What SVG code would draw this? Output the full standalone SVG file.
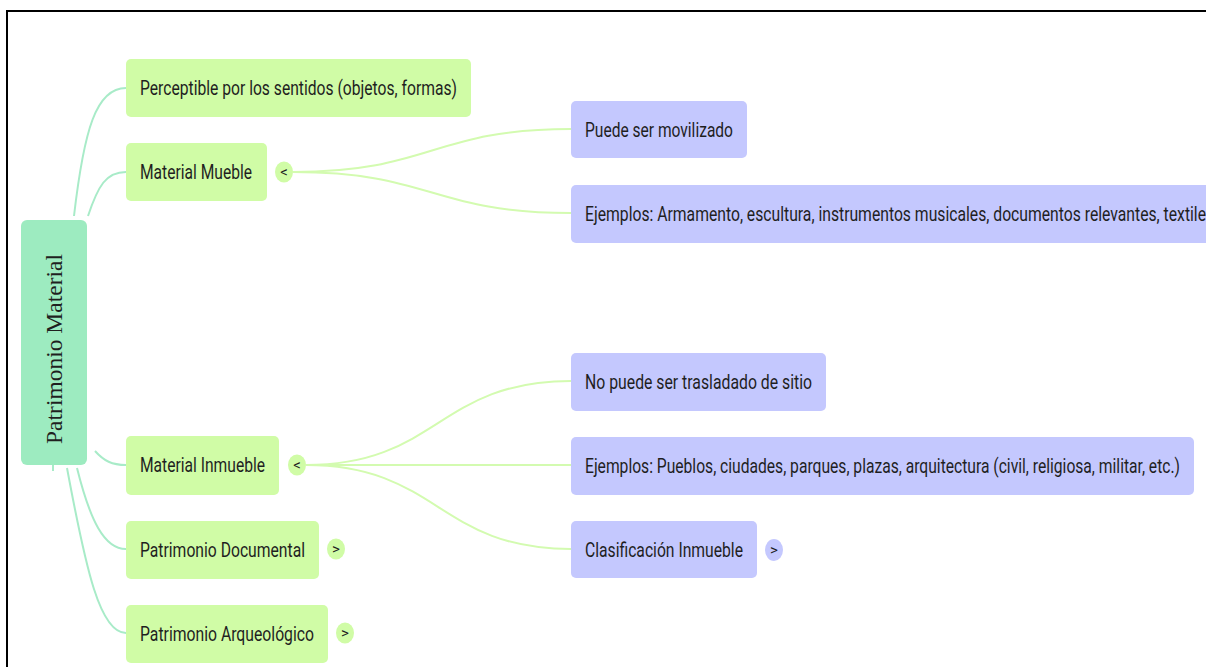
<svg xmlns="http://www.w3.org/2000/svg" width="1206" height="667" viewBox="0 0 1206 667">
  <style>
    .root { fill: #9DEBC0; }
    .g { fill: #D0FCA6; }
    .b { fill: #C4C8FE; }
    .t { font-family: Roboto, "Noto Sans", sans-serif; font-size: 19.5px; fill: #1F1F1F; }
    .rt { font-family: "Liberation Serif", "Times New Roman", serif; font-size: 23.5px; fill: #1F1F1F; }
    .c { font-family: Roboto, "Noto Sans", sans-serif; font-size: 15px; fill: #1F1F1F; }
    .l1 { fill: none; stroke: #A8EBC8; stroke-width: 2; }
    .l2 { fill: none; stroke: #D3FBB0; stroke-width: 2; }
  </style>
  <rect width="1206" height="667" fill="#FFFFFF"/>
  <g id="frame">
    <line x1="7" y1="10" x2="7" y2="667" stroke="#000" stroke-width="2"/>
    <line x1="6" y1="11" x2="1206" y2="11" stroke="#000" stroke-width="2"/>
  </g>
  <g id="connectors">
    <path class="l1" d="M74,216 C84,130 96,88 126,88"/>
    <path class="l1" d="M88,216 C98,186 106,172 126,172"/>
    <path class="l1" d="M95,451 C104,461 112,465 126,465"/>
    <path class="l1" d="M77,468 C90,520 104,549 126,549"/>
    <path class="l1" d="M67,468 C86,570 100,633 126,633"/>
    <path class="l1" d="M53,465 L53,471"/>
    <path class="l2" d="M293,172 C432,172 432,129 571,129"/>
    <path class="l2" d="M293,172 C432,172 432,213 571,213"/>
    <path class="l2" d="M306,465 C438,465 438,381 571,381"/>
    <path class="l2" d="M306,465 L571,465"/>
    <path class="l2" d="M306,465 C438,465 438,549 571,549"/>
  </g>
  <g id="root">
    <rect class="root" x="21" y="220" width="66" height="245" rx="6"/>
    <text class="rt" transform="translate(62,349) rotate(-90)" text-anchor="middle">Patrimonio Material</text>
  </g>
  <g id="perceptible">
    <rect class="g" x="126" y="59" width="345" height="58" rx="5"/>
    <text class="t" x="140" y="95" textLength="317" lengthAdjust="spacingAndGlyphs">Perceptible por los sentidos (objetos, formas)</text>
  </g>
  <g id="mueble">
    <rect class="g" x="126" y="143" width="141" height="58" rx="5"/>
    <text class="t" x="140" y="179" textLength="112" lengthAdjust="spacingAndGlyphs">Material Mueble</text>
    <ellipse class="g" cx="284" cy="172" rx="9" ry="10.5"/>
    <text class="c" x="284" y="177" text-anchor="middle">&lt;</text>
  </g>
  <g id="inmueble">
    <rect class="g" x="126" y="436" width="153" height="59" rx="5"/>
    <text class="t" x="140" y="472" textLength="125" lengthAdjust="spacingAndGlyphs">Material Inmueble</text>
    <ellipse class="g" cx="297" cy="465" rx="9" ry="10.5"/>
    <text class="c" x="297" y="470" text-anchor="middle">&lt;</text>
  </g>
  <g id="documental">
    <rect class="g" x="126" y="521" width="193" height="58" rx="5"/>
    <text class="t" x="140" y="556.5" textLength="165" lengthAdjust="spacingAndGlyphs">Patrimonio Documental</text>
    <ellipse class="g" cx="336" cy="549" rx="9" ry="10.5"/>
    <text class="c" x="336" y="554" text-anchor="middle">&gt;</text>
  </g>
  <g id="arqueologico">
    <rect class="g" x="126" y="605" width="202" height="58" rx="5"/>
    <text class="t" x="140" y="640.5" textLength="174" lengthAdjust="spacingAndGlyphs">Patrimonio Arqueológico</text>
    <ellipse class="g" cx="345" cy="633" rx="9" ry="10.5"/>
    <text class="c" x="345" y="638" text-anchor="middle">&gt;</text>
  </g>
  <g id="movilizado">
    <rect class="b" x="571" y="101" width="176" height="57" rx="5"/>
    <text class="t" x="585" y="136.5" textLength="148" lengthAdjust="spacingAndGlyphs">Puede ser movilizado</text>
  </g>
  <g id="ejemplos-mueble">
    <rect class="b" x="571" y="185" width="650" height="58" rx="5"/>
    <text class="t" x="585" y="220.5" textLength="621" lengthAdjust="spacingAndGlyphs">Ejemplos: Armamento, escultura, instrumentos musicales, documentos relevantes, textile</text>
  </g>
  <g id="no-trasladado">
    <rect class="b" x="571" y="353" width="255" height="58" rx="5"/>
    <text class="t" x="585" y="388.5" textLength="227" lengthAdjust="spacingAndGlyphs">No puede ser trasladado de sitio</text>
  </g>
  <g id="ejemplos-inmueble">
    <rect class="b" x="571" y="437" width="623" height="58" rx="5"/>
    <text class="t" x="585" y="472.5" textLength="595" lengthAdjust="spacingAndGlyphs">Ejemplos: Pueblos, ciudades, parques, plazas, arquitectura (civil, religiosa, militar, etc.)</text>
  </g>
  <g id="clasificacion">
    <rect class="b" x="571" y="521" width="186" height="57" rx="5"/>
    <text class="t" x="585" y="556.5" textLength="158" lengthAdjust="spacingAndGlyphs">Clasificación Inmueble</text>
    <ellipse class="b" cx="774" cy="550" rx="9" ry="11"/>
    <text class="c" x="774" y="555" text-anchor="middle">&gt;</text>
  </g>
</svg>
